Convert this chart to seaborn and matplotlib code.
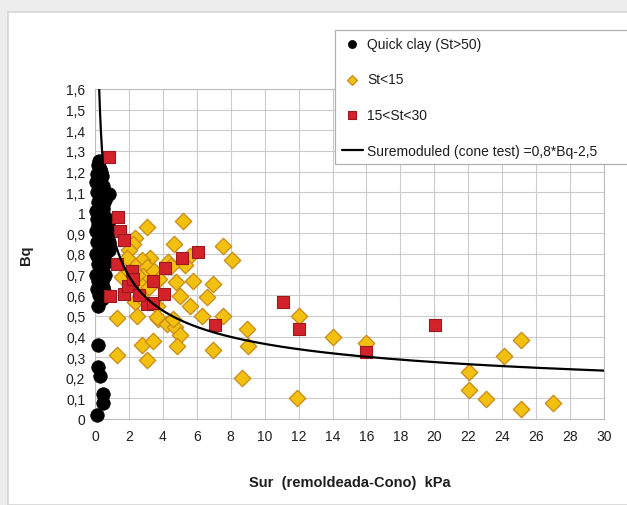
import numpy as np
import pandas as pd
import matplotlib
matplotlib.use("Agg")
import matplotlib.pyplot as plt
from matplotlib.patches import Rectangle
import seaborn as sns

# Quick clay (St>50)
quick_sur = [0.10, 0.50, 0.45, 0.30, 0.15, 0.15,
             0.15, 0.25, 0.10, 0.35, 0.05, 0.30, 0.15, 0.45, 0.05, 0.60,
             0.25, 0.40, 0.10, 0.55, 0.30, 0.05, 0.45, 0.20, 0.60, 0.10,
             0.35, 0.05, 0.25, 0.15, 0.40, 0.80, 0.10, 0.30, 0.05, 0.20,
             0.10, 0.30, 0.15, 0.25, 0.85, 0.80, 0.70, 0.50, 0.60,
             0.40, 0.55, 0.20, 0.50, 0.65, 0.35, 0.50, 0.70, 0.45, 0.60,
             0.35, 0.50, 0.45, 0.40, 0.35, 0.45, 0.30, 0.40, 0.35, 0.45,
             0.40, 0.20, 0.65, 0.75, 0.60, 0.50]
quick_bq = [0.02, 0.08, 0.12, 0.21, 0.25, 0.36,
            0.55, 0.60, 0.63, 0.65, 0.70, 0.72, 0.75, 0.77, 0.80, 0.80,
            0.82, 0.84, 0.86, 0.87, 0.89, 0.91, 0.92, 0.94, 0.95, 0.97,
            0.99, 1.01, 1.03, 1.05, 1.07, 1.09, 1.10, 1.12, 1.15, 1.17,
            1.19, 1.21, 1.23, 1.25, 0.86, 0.82, 0.92, 0.74, 0.70,
            0.58, 0.62, 0.67, 0.68, 0.76, 0.79, 0.83, 0.88, 0.90, 0.98,
            1.00, 1.02, 1.04, 1.08, 1.11, 1.13, 1.16, 1.18, 1.20, 0.96,
            0.93, 0.78, 0.84, 0.95, 1.06, 0.64]

# St<15
low_sur = [3.05, 5.17, 2.36, 2.26, 2.02, 4.66, 7.56, 8.05, 5.60, 5.30,
           4.32, 3.24, 2.75, 2.26, 3.05, 1.57, 2.85, 4.80, 5.80, 6.97,
           2.75, 2.36, 3.64, 5.00, 5.60, 6.58, 1.28, 2.46, 3.73, 4.22,
           4.71, 5.00, 6.29, 7.56, 8.94, 9.03, 2.75, 3.44, 4.81, 6.93,
           1.28, 3.05, 8.64, 12.04, 14.04, 16.00, 11.88, 25.08, 24.10, 22.02,
           22.02, 23.04, 25.08, 27.00, 2.00, 2.50, 3.50, 3.80, 3.20, 2.80,
           4.50, 1.90, 4.60, 3.63]
low_bq = [0.93, 0.96, 0.88, 0.85, 0.82, 0.85, 0.84, 0.77, 0.79, 0.745,
          0.76, 0.78, 0.77, 0.75, 0.735, 0.69, 0.695, 0.663, 0.67, 0.655,
          0.646, 0.566, 0.55, 0.595, 0.55, 0.59, 0.49, 0.50, 0.485, 0.46,
          0.445, 0.407, 0.50, 0.50, 0.436, 0.355, 0.36, 0.38, 0.355, 0.336,
          0.31, 0.285, 0.20, 0.50, 0.40, 0.37, 0.10, 0.385, 0.307, 0.226,
          0.14, 0.097, 0.048, 0.076, 0.72, 0.70, 0.72, 0.68, 0.64, 0.58,
          0.74, 0.78, 0.485, 0.493]

# 15<St<30
mid_sur = [0.80, 1.35, 1.48, 1.70, 1.28, 0.87, 1.70, 2.18, 1.97, 2.16,
           2.26, 3.44, 3.05, 3.44, 4.07, 4.12, 5.10, 6.05, 7.07, 11.06,
           12.04, 16.00, 20.05, 2.60]
mid_bq = [1.27, 0.978, 0.913, 0.87, 0.75, 0.595, 0.606, 0.646, 0.646, 0.72,
          0.68, 0.67, 0.558, 0.562, 0.606, 0.73, 0.78, 0.81, 0.457, 0.569,
          0.436, 0.323, 0.456, 0.60]

# Remoulded strength relation: Sur = 0.8 * Bq^-2.5
REL_COEF = 0.8
REL_EXP = 2.5

x_ticks = list(range(0, 31, 2))
y_ticks = [0.0, 0.1, 0.2, 0.3, 0.4, 0.5, 0.6, 0.7, 0.8, 0.9, 1.0,
           1.1, 1.2, 1.3, 1.4, 1.5, 1.6]
y_tick_labels = ["0", "0,1", "0,2", "0,3", "0,4", "0,5", "0,6", "0,7", "0,8",
                 "0,9", "1", "1,1", "1,2", "1,3", "1,4", "1,5", "1,6"]

sns.set_theme(style="white")
plt.rcParams["font.family"] = ["Liberation Sans", "DejaVu Sans"]

W, H = 627, 506
fig = plt.figure(figsize=(W / 100, H / 100), dpi=100)
fig.patch.set_facecolor("#EDEDED")

# white card behind the chart
card = Rectangle((8 / W, 0), 1.0, (H - 13) / H, transform=fig.transFigure,
                 facecolor="white", edgecolor="#D6D6D6", linewidth=1.2,
                 zorder=-10)
fig.patches.append(card)

ax = fig.add_axes([95 / W, (H - 420) / H, (604 - 95) / W, (420 - 90) / H])
ax.set_facecolor("white")

sur_curve = np.geomspace(REL_COEF * 1.6 ** (-REL_EXP), 30, 400)
curve = pd.DataFrame({"Sur": sur_curve,
                      "Bq": (sur_curve / REL_COEF) ** (-1.0 / REL_EXP)})

sns.scatterplot(x=quick_sur, y=quick_bq, ax=ax, marker="o", s=95,
                color="black", edgecolor="black", linewidth=0.5,
                clip_on=False, zorder=3, label="Quick clay (St>50)")
sns.scatterplot(x=low_sur, y=low_bq, ax=ax, marker="D", s=70,
                color="#F2C00E", edgecolor="#C98A1A", linewidth=0.9,
                clip_on=False, zorder=4, label="St<15")
sns.scatterplot(x=mid_sur, y=mid_bq, ax=ax, marker="s", s=75,
                color="#D3222A", edgecolor="#9A1B1E", linewidth=0.8,
                clip_on=False, zorder=5, label="15<St<30")
sns.lineplot(data=curve, x="Sur", y="Bq", ax=ax, color="black", lw=1.6,
             zorder=6, sort=False,
             label="Suremoduled (cone test) =0,8*Bq-2,5")

ax.set_xlim(0, 30)
ax.set_ylim(0, 1.6)
ax.set_xticks(x_ticks)
ax.set_xticklabels([str(t) for t in x_ticks])
ax.set_yticks(y_ticks)
ax.set_yticklabels(y_tick_labels)
ax.tick_params(axis="both", length=0, labelsize=10, colors="#1E1E1E")
ax.tick_params(axis="x", pad=7)
ax.tick_params(axis="y", pad=7)
ax.grid(True, color="#CBCBCB", linewidth=0.8)
ax.set_axisbelow(True)
for sp in ax.spines.values():
    sp.set_color("#BDBDBD")
    sp.set_linewidth(0.8)

ax.set_xlabel("Sur  (remoldeada-Cono)  kPa", fontsize=10.5,
              fontweight="bold", color="#1E1E1E", labelpad=23)
ax.set_ylabel("Bq", fontsize=10.5, fontweight="bold", color="#1E1E1E",
              labelpad=24)

handles, labels = ax.get_legend_handles_labels()
ax.get_legend().remove()
leg = fig.legend(handles, labels, loc="upper left",
                 bbox_to_anchor=(335 / W, (H - 172) / H, 0.6, 141 / H),
                 mode="expand", fontsize=10, frameon=True, fancybox=False,
                 edgecolor="#B0B0B0", framealpha=1, borderaxespad=0,
                 borderpad=0.5, labelspacing=1.55, handlelength=1.5,
                 handletextpad=0.3, markerscale=0.6)
leg.get_frame().set_linewidth(0.9)
leg.set_zorder(10)
for t in leg.get_texts():
    t.set_color("#1E1E1E")

fig.savefig("out.png", dpi=100, facecolor=fig.get_facecolor())
